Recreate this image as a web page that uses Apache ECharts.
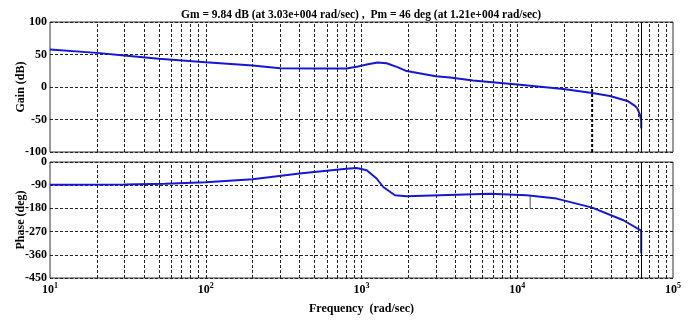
<!DOCTYPE html>
<html>
<head>
<meta charset="utf-8">
<script src="https://cdn.jsdelivr.net/npm/echarts@6/dist/echarts.min.js"></script>
<style>
  html, body { margin: 0; padding: 0; background: #fff; }
  #chart { width: 694px; height: 322px; }
</style>
</head>
<body>
<div id="chart"></div>
<script>
// Bode magnitude
const gainFreq = [10, 20, 30, 50, 100, 200, 300, 500, 800, 950, 1100, 1270, 1450, 1700, 1950, 3000, 3700, 5200, 10000, 19800, 30300, 39400, 51600, 57000, 59000, 61400, 62500, 62500];
const gainDb = [57.7, 52.5, 48.5, 43.5, 38, 33, 29, 28.6, 28.6, 31.5, 35, 37.8, 36.5, 30.5, 24.5, 16.5, 14.5, 10, 3.7, -3, -9.2, -13.9, -22, -29, -33, -43, -52, -64];

// Bode phase
const phaseFreq = [10, 30, 55, 100, 200, 400, 800, 930, 1080, 1250, 1380, 1640, 1950, 3190, 6680, 11500, 17900, 30300, 48000, 62500, 62500];
const phaseDeg = [-88, -87, -84, -79, -67, -45, -26, -23, -32, -64, -97, -129, -133, -129, -123, -129, -142, -177, -226, -266, -355];

// margin markers
const gmFreq = 30300;
const pmFreq = 12100;
const pmPhase = -134;
const nyquistFreq = 62832;

const decadeStarts = [10, 100, 1000, 10000];
const gridFreqs = decadeStarts
  .flatMap((d) => [1, 2, 3, 4, 5, 6, 7, 8, 9].map((m) => m * d))
  .filter((f) => f > 10);

const FONT = '"Liberation Serif", "Times New Roman", serif';
const CURVE = '#1616d6';

const gridLines = (extra) => ({
  silent: true,
  symbol: 'none',
  animation: false,
  label: { show: false },
  lineStyle: { color: '#222', type: [3, 2], width: 1 },
  data: gridFreqs.map((f) => ({ xAxis: f })).concat(extra),
});

const nyq = { xAxis: nyquistFreq, lineStyle: { color: '#000', type: 'solid', width: 1 } };

const xAxisBase = {
  type: 'log',
  logBase: 10,
  min: 10,
  max: 100000,
  splitLine: { show: false },
  axisTick: { show: false },
  axisLine: { show: false },
};

const yLabel = { color: '#000', fontFamily: FONT, fontWeight: 'bold', fontSize: 12, margin: 3 };
const yName = { color: '#000', fontFamily: FONT, fontWeight: 'bold', fontSize: 12 };
const hSplit = { show: true, lineStyle: { color: '#222', type: [3, 2], width: 1 } };

const chart = echarts.init(document.getElementById('chart'));
chart.setOption({
  animation: false,
  backgroundColor: '#fff',
  title: {
    text: 'Gm = 9.84 dB (at 3.03e+004 rad/sec) ,  Pm = 46 deg (at 1.21e+004 rad/sec)',
    left: 356,
    top: 4,
    textAlign: 'center',
    textStyle: { fontFamily: FONT, fontWeight: 'bold', fontSize: 11.5, color: '#000' },
  },
  grid: [
    { left: 50, right: 21, top: 22, height: 130, show: true, borderColor: '#333', borderWidth: 1, outerBoundsMode: 'none' },
    { left: 50, right: 21, top: 162, height: 116, show: true, borderColor: '#333', borderWidth: 1, outerBoundsMode: 'none' },
  ],
  xAxis: [
    { ...xAxisBase, gridIndex: 0, axisLabel: { show: false } },
    {
      ...xAxisBase,
      gridIndex: 1,
      name: 'Frequency  (rad/sec)',
      nameLocation: 'middle',
      nameGap: 25,
      nameMoveOverlap: false,
      nameTextStyle: { color: '#000', fontFamily: FONT, fontWeight: 'bold', fontSize: 12 },
      axisLabel: {
        margin: 4,
        formatter: (v) => '{b|10}{s|' + Math.round(Math.log10(v)) + '}',
        rich: {
          b: { fontFamily: FONT, fontWeight: 'bold', fontSize: 12, color: '#000', lineHeight: 14, verticalAlign: 'bottom' },
          s: { fontFamily: FONT, fontWeight: 'bold', fontSize: 8, color: '#000', lineHeight: 8, verticalAlign: 'top' },
        },
      },
    },
  ],
  yAxis: [
    {
      type: 'value', gridIndex: 0, min: -100, max: 100, interval: 50,
      name: 'Gain (dB)', nameLocation: 'middle', nameGap: 23, nameMoveOverlap: false, nameTextStyle: yName,
      axisLabel: yLabel, splitLine: hSplit, axisTick: { show: false }, axisLine: { show: false },
    },
    {
      type: 'value', gridIndex: 1, min: -450, max: 0, interval: 90,
      name: 'Phase (deg)', nameLocation: 'middle', nameGap: 23, nameMoveOverlap: false, nameTextStyle: yName,
      axisLabel: yLabel, splitLine: hSplit, axisTick: { show: false }, axisLine: { show: false },
    },
  ],
  series: [
    {
      type: 'line', xAxisIndex: 0, yAxisIndex: 0, data: [], z: 1,
      markLine: gridLines([nyq]),
    },
    {
      type: 'line', xAxisIndex: 1, yAxisIndex: 1, data: [], z: 1,
      markLine: gridLines([nyq]),
    },
    {
      name: 'Gm marker', type: 'line', xAxisIndex: 0, yAxisIndex: 0, z: 2,
      showSymbol: false, silent: true,
      lineStyle: { color: '#000', width: 1.8, type: [3, 2] },
      data: [[gmFreq, -100], [gmFreq, 0]],
    },
    {
      name: 'Pm marker', type: 'line', xAxisIndex: 1, yAxisIndex: 1, z: 2,
      showSymbol: false, silent: true,
      lineStyle: { color: '#555', width: 1 },
      data: [[pmFreq, pmPhase], [pmFreq, -180]],
    },
    {
      name: 'Gain', type: 'line', xAxisIndex: 0, yAxisIndex: 0, z: 3,
      showSymbol: false, smooth: false,
      lineStyle: { color: CURVE, width: 2 },
      data: gainFreq.map((f, i) => [f, gainDb[i]]),
    },
    {
      name: 'Phase', type: 'line', xAxisIndex: 1, yAxisIndex: 1, z: 3,
      showSymbol: false, smooth: false,
      lineStyle: { color: CURVE, width: 2 },
      data: phaseFreq.map((f, i) => [f, phaseDeg[i]]),
    },
  ],
});
</script>
</body>
</html>
